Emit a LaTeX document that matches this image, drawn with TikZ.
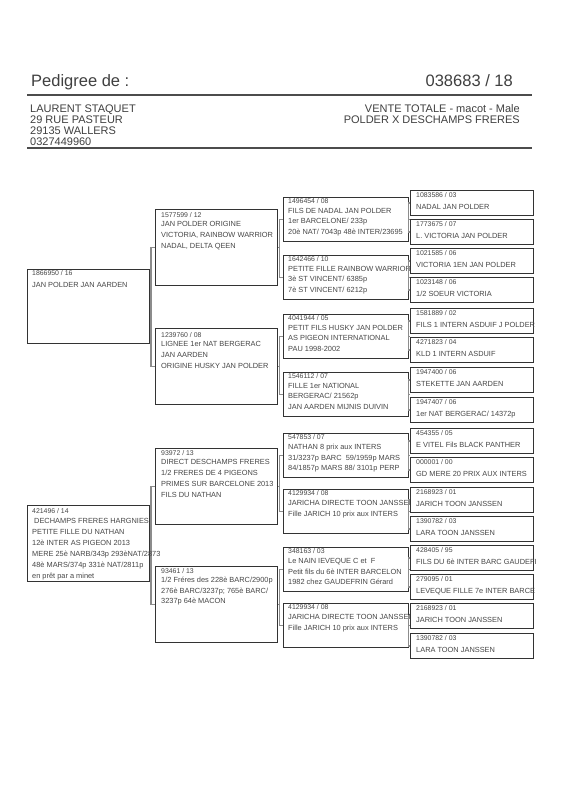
\documentclass[tikz,border=0pt]{standalone}
\usepackage{fontspec}
\setmainfont{Liberation Sans}
\tikzset{
  pbox/.style={draw=black!80, line width=1.1pt, fill=white, inner sep=0pt, anchor=north west},
  conn/.style={draw=black!45, line width=1.3pt},
  num/.style={anchor=base west, inner sep=0pt, font=\fontsize{6.9}{8}\selectfont, text=black!72},
  ln/.style={anchor=base west, inner sep=0pt, font=\fontsize{7.4}{9}\selectfont, text=black!72},
  hdr/.style={inner sep=0pt, font=\fontsize{11}{12}\selectfont, text=black!75},
  ttl/.style={inner sep=0pt, font=\fontsize{16.5}{18}\selectfont, text=black!75},
  rule/.style={draw=black!70, line width=1.3pt}
}
\newcommand\pedbox[5]{\node[pbox, minimum width=#4pt, minimum height=#5pt] (#1) at (#2,#3) {};}
\newcommand\pedtext[6]{%
  \node[num] (#1n) at (#2,{#3+1.3}) {#5};
  \foreach \t [count=\i] in {#6} {\node[ln] (#1l\i) at (#2,{#3+\i*#4}) {\t};}%
}
\newcommand\joinpar[4]{%
  \draw[conn] (#2.west) -- ++(-#4,0) coordinate (j#2) |- (#3.west);
  \draw[conn] (#1.east) -- (#1.east -| j#2);
}
\begin{document}
\begin{tikzpicture}[x=1pt,y=-1pt]
\useasboundingbox (0,0) rectangle (566,800);
\fill[white] (0,0) rectangle (566,800);

% header
\node[ttl, anchor=base west] (title) at (31,86) {Pedigree de :};
\node[ttl, anchor=base east] (ring) at (513,86) {038683 / 18};
\coordinate (r1a) at (27,95); \coordinate (r1b) at (532,95);
\coordinate (r2a) at (27,148); \coordinate (r2b) at (532,148);
\draw[rule] (r1a) -- (r1b);
\draw[rule] (r2a) -- (r2b);
\node[hdr, anchor=base west] (h1) at (30,112) {LAURENT STAQUET};
\node[hdr, anchor=base west] (h2) at (30,123) {29 RUE PASTEUR};
\node[hdr, anchor=base west] (h3) at (30,134) {29135 WALLERS};
\node[hdr, anchor=base west] (h4) at (30,145) {0327449960};
\node[hdr, anchor=base east] (h5) at (520,112) {VENTE TOTALE - macot - Male};
\node[hdr, anchor=base east] (h6) at (520,123) {POLDER X DESCHAMPS FRERES};

% boxes generation 1
\pedbox{A}{27}{269}{122}{74}
\pedbox{B}{27}{505}{122}{76}
% generation 2
\pedbox{C}{155}{209}{122}{76}
\pedbox{D}{155}{328}{122}{76}
\pedbox{E}{155}{448}{122}{76}
\pedbox{F}{155}{566}{122}{76}
% generation 3
\pedbox{G}{283}{197}{125}{44}
\pedbox{H}{283}{255}{125}{44}
\pedbox{I}{283}{314}{125}{44}
\pedbox{J}{283}{372}{125}{44}
\pedbox{K}{283}{433}{125}{44}
\pedbox{L}{283}{489}{125}{44}
\pedbox{M}{283}{547}{125}{44}
\pedbox{N}{283}{603}{125}{44}

% connectors
\joinpar{A}{C}{D}{4}
\joinpar{B}{E}{F}{4}
\joinpar{C}{G}{H}{3.5}
\joinpar{D}{I}{J}{3.5}
\joinpar{E}{K}{L}{3.5}
\joinpar{F}{M}{N}{3.5}

% texts generation 1
\pedtext{A}{32}{274}{13}{1866950 / 16}{JAN POLDER JAN AARDEN}
\pedtext{B}{32}{512}{11}{421496 / 14}{\hspace{2pt}DECHAMPS FRERES HARGNIES, PETITE FILLE DU NATHAN, 12è INTER AS PIGEON 2013, MERE 25è NARB/343p 293èNAT/2873, 48è MARS/374p 331è NAT/2811p, en prêt par a minet}
% texts generation 2
\pedtext{C}{161}{216}{10.7}{1577599 / 12}{JAN POLDER ORIGINE, {VICTORIA, RAINBOW WARRIOR}, {NADAL, DELTA QEEN}}
\pedtext{D}{161}{336}{10.7}{1239760 / 08}{LIGNEE 1er NAT BERGERAC, JAN AARDEN, ORIGINE HUSKY JAN POLDER}
\pedtext{E}{161}{454}{10.8}{93972 / 13}{DIRECT DESCHAMPS FRERES, 1/2 FRERES DE 4 PIGEONS, PRIMES SUR BARCELONE 2013, FILS DU NATHAN}
\pedtext{F}{161}{572}{10.5}{93461 / 13}{1/2 Fréres des 228è BARC/2900p, 276è BARC/3237p; 765è BARC/, 3237p 64è MACON}
% texts generation 3
\pedtext{G}{288}{202.5}{10.6}{1496454 / 08}{FILS DE NADAL JAN POLDER, 1er BARCELONE/ 233p, 20è NAT/ 7043p 48è INTER/23695}
\pedtext{H}{288}{260.5}{10.6}{1642466 / 10}{PETITE FILLE RAINBOW WARRIOR, 3è ST VINCENT/ 6385p, 7è ST VINCENT/ 6212p}
\pedtext{I}{288}{319.5}{10.6}{4041944 / 05}{PETIT FILS HUSKY JAN POLDER, AS PIGEON INTERNATIONAL, PAU 1998-2002}
\pedtext{J}{288}{377.5}{10.6}{1546112 / 07}{FILLE 1er NATIONAL, BERGERAC/ 21562p, JAN AARDEN MIJNIS DUIVIN}
\pedtext{K}{288}{438.5}{10.8}{547853 / 07}{NATHAN 8 prix aux INTERS, 31/3237p BARC\ \ 59/1959p MARS, 84/1857p MARS 88/ 3101p PERP}
\pedtext{L}{288}{494.5}{10.8}{4129934 / 08}{JARICHA DIRECTE TOON JANSSEN, Fille JARICH 10 prix aux INTERS}
\pedtext{M}{288}{552.5}{10.8}{348163 / 03}{Le NAIN IEVEQUE C et\ \ F, Petit fils du 6è INTER BARCELON, 1982 chez GAUDEFRIN Gérard}
\pedtext{N}{288}{608.5}{10.8}{4129934 / 08}{JARICHA DIRECTE TOON JANSSEN, Fille JARICH 10 prix aux INTERS}

% generation 4 boxes
\pedbox{Q1}{410}{190}{123}{25}
\pedbox{Q2}{410}{219}{123}{25}
\pedbox{Q3}{410}{248}{123}{25}
\pedbox{Q4}{410}{277}{123}{25}
\pedbox{Q5}{410}{308}{123}{25}
\pedbox{Q6}{410}{337}{123}{25}
\pedbox{Q7}{410}{367}{123}{25}
\pedbox{Q8}{410}{397}{123}{25}
\pedbox{Q9}{410}{428}{123}{25}
\pedbox{Q10}{410}{457}{123}{25}
\pedbox{Q11}{410}{487}{123}{25}
\pedbox{Q12}{410}{516}{123}{25}
\pedbox{Q13}{410}{545}{123}{25}
\pedbox{Q14}{410}{574}{123}{25}
\pedbox{Q15}{410}{603}{123}{25}
\pedbox{Q16}{410}{633}{123}{25}

\joinpar{G}{Q1}{Q2}{1.5}
\joinpar{H}{Q3}{Q4}{1.5}
\joinpar{I}{Q5}{Q6}{1.5}
\joinpar{J}{Q7}{Q8}{1.5}
\joinpar{K}{Q9}{Q10}{1.5}
\joinpar{L}{Q11}{Q12}{1.5}
\joinpar{M}{Q13}{Q14}{1.5}
\joinpar{N}{Q15}{Q16}{1.5}

\pedtext{Q1}{416}{196}{13}{1083586 / 03}{NADAL JAN POLDER}
\pedtext{Q2}{416}{225}{13}{1773675 / 07}{L. VICTORIA JAN POLDER}
\pedtext{Q3}{416}{254}{13}{1021585 / 06}{VICTORIA 1EN JAN POLDER}
\pedtext{Q4}{416}{283}{13}{1023148 / 06}{1/2 SOEUR VICTORIA}
\pedtext{Q5}{416}{314}{13}{1581889 / 02}{FILS 1 INTERN ASDUIF J POLDER}
\pedtext{Q6}{416}{343}{13}{4271823 / 04}{KLD 1 INTERN ASDUIF}
\pedtext{Q7}{416}{373}{13}{1947400 / 06}{STEKETTE JAN AARDEN}
\pedtext{Q8}{416}{403}{13}{1947407 / 06}{1er NAT BERGERAC/ 14372p}
\pedtext{Q9}{416}{434}{13}{454355 / 05}{E VITEL Fils BLACK PANTHER}
\pedtext{Q10}{416}{463}{13}{000001 / 00}{GD MERE 20 PRIX AUX INTERS}
\pedtext{Q11}{416}{493}{13}{2168923 / 01}{JARICH TOON JANSSEN}
\pedtext{Q12}{416}{522}{13}{1390782 / 03}{LARA TOON JANSSEN}
\pedtext{Q13}{416}{551}{13}{428405 / 95}{FILS DU 6è INTER BARC GAUDEFI}
\pedtext{Q14}{416}{580}{13}{279095 / 01}{LEVEQUE FILLE 7e INTER BARCE}
\pedtext{Q15}{416}{609}{13}{2168923 / 01}{JARICH TOON JANSSEN}
\pedtext{Q16}{416}{639}{13}{1390782 / 03}{LARA TOON JANSSEN}
\end{tikzpicture}
\end{document}
